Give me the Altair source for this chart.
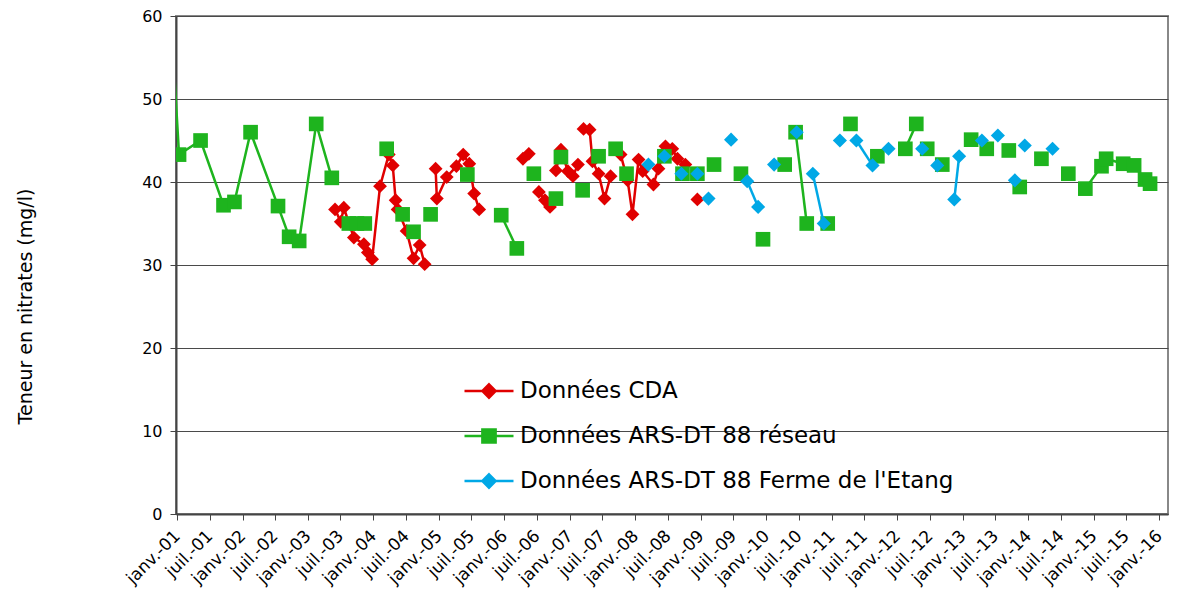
import altair as alt
import pandas as pd

series_names = ["Données CDA", "Données ARS-DT 88 réseau", "Données ARS-DT 88 Ferme de l'Etang"]
series_colors = ["#E00000", "#1EB41E", "#00A8E6"]

# --- Données CDA (red) ---
cda_dates = ["2003-06-01", "2003-07-03", "2003-07-20", "2003-09-14", "2003-11-09", "2003-12-01", "2003-12-25",
             "2004-02-07", "2004-03-27", "2004-04-18", "2004-05-04", "2004-05-15", "2004-07-04", "2004-08-12",
             "2004-09-15", "2004-10-13",
             "2004-12-13", "2004-12-20", "2005-02-13", "2005-04-08", "2005-05-16", "2005-06-19", "2005-07-16",
             "2005-08-13",
             "2006-04-14", "2006-05-17",
             "2006-07-12", "2006-08-15", "2006-09-12",
             "2006-10-15", "2006-11-12", "2006-12-21", "2007-01-18", "2007-02-15",
             "2007-03-18", "2007-04-21", "2007-05-07", "2007-06-10", "2007-07-13", "2007-08-16",
             "2007-10-11", "2007-11-19", "2007-12-16", "2008-01-19", "2008-02-11", "2008-04-11", "2008-05-09",
             "2008-06-17", "2008-07-25", "2008-08-23", "2008-10-06",
             "2008-12-12"]
cda_values = [36.7, 35.2, 36.9, 33.3, 32.5, 31.5, 30.7, 39.5, 43.3, 42.0, 37.8, 36.7, 34.1, 30.8, 32.4, 30.1,
              41.6, 38.0, 40.6, 41.9, 43.3, 42.2, 38.6, 36.7,
              42.8, 43.4,
              38.8, 37.8, 37.0,
              41.4, 43.9, 41.3, 40.7, 42.1,
              46.4, 46.3, 42.5, 41.0, 38.0, 40.7,
              43.3, 40.2, 36.1, 42.7, 41.3, 39.7, 41.6, 44.3, 44.0, 42.8, 42.1,
              37.9]
cda_runs = [16, 8, 2, 3, 5, 6, 11, 1]

# --- Données ARS-DT 88 réseau (green) ---
ars_dates = ["2000-11-10", "2001-01-12", "2001-05-12", "2001-09-17", "2001-11-17", "2002-02-15", "2002-07-18",
             "2002-09-18", "2002-11-13", "2003-02-16", "2003-05-14",
             "2003-08-17", "2003-10-01", "2003-11-14",
             "2004-03-15", "2004-06-12", "2004-08-12", "2004-11-15", "2005-06-08",
             "2005-12-14", "2006-03-11",
             "2006-06-14", "2006-10-15", "2006-11-12", "2007-03-13", "2007-06-10", "2007-09-13", "2007-11-13",
             "2008-06-11", "2008-09-20", "2008-12-12", "2009-03-15", "2009-08-12", "2009-12-13", "2010-04-13",
             "2010-06-13", "2010-08-14",
             "2010-12-09", "2011-04-15", "2011-09-12",
             "2012-02-15", "2012-04-16",
             "2012-06-16", "2012-09-08", "2013-02-16", "2013-05-14", "2013-09-14", "2013-11-14", "2014-03-15",
             "2014-08-12",
             "2014-11-15", "2015-02-13", "2015-03-11", "2015-06-14", "2015-08-14", "2015-10-14", "2015-11-11"]
ars_values = [66.5, 43.3, 45.0, 37.2, 37.6, 46.0, 37.1, 33.4, 32.9, 47.0, 40.5,
              35.0, 35.0, 35.0,
              44.0, 36.1, 34.0, 36.1, 40.9,
              36.0, 32.0,
              41.0, 38.0, 43.0, 39.0, 43.1, 44.0, 41.0, 43.1, 41.0, 41.0, 42.1, 41.0, 33.1, 42.1,
              46.0, 35.0,
              35.0, 47.0, 43.1,
              44.0, 47.0,
              44.0, 42.1, 45.1, 44.0, 43.8, 39.4, 42.8, 41.0,
              39.2, 41.9, 42.8, 42.2, 42.0, 40.3, 39.8]
ars_runs = [11, 3, 1, 1, 1, 1, 1, 2] + [1] * 14 + [2, 1, 1, 1, 2] + [1] * 8 + [7]

# --- Données ARS-DT 88 Ferme de l'Etang (blue) ---
etang_dates = ["2008-03-14", "2008-06-11", "2008-09-14", "2008-12-12", "2009-02-12", "2009-06-18", "2009-09-16",
               "2009-11-16", "2010-02-13", "2010-06-19", "2010-09-17", "2010-11-17", "2011-02-15", "2011-05-18",
               "2011-08-16", "2011-11-13", "2012-05-19", "2012-08-11", "2012-11-14", "2012-12-11", "2013-04-17",
               "2013-07-15", "2013-10-18", "2013-12-12", "2014-05-16"]
etang_values = [42.1, 43.1, 41.0, 41.0, 38.0, 45.1, 40.1, 37.0, 42.1, 46.0, 41.0, 35.0, 45.0, 45.0,
                42.0, 44.0, 44.0, 42.0, 37.9, 43.1, 45.0, 45.6, 40.2, 44.4, 44.0]
etang_runs = [1] * 6 + [2, 1, 1, 2, 1, 2, 1, 1, 1, 2] + [1] * 5

y_ticks = [0, 10, 20, 30, 40, 50, 60]
x_tick_years = list(range(2001, 2017))


def build(dates, values, runs, name):
    seg = []
    for i, r in enumerate(runs):
        seg += [i] * r
    return pd.DataFrame({"date": dates, "value": values, "seg": seg, "series": name})


df_cda = build(cda_dates, cda_values, cda_runs, series_names[0])
df_ars = build(ars_dates, ars_values, ars_runs, series_names[1])
df_etang = build(etang_dates, etang_values, etang_runs, series_names[2])

tick_values = []
for yr in x_tick_years:
    tick_values.append(alt.DateTime(year=yr, month=1, date=1, utc=True))
    if yr < 2016:
        tick_values.append(alt.DateTime(year=yr, month=7, date=1, utc=True))

x_scale = alt.Scale(type="utc",
                    domain=[alt.DateTime(year=2000, month=12, date=26, utc=True),
                            alt.DateTime(year=2016, month=2, date=19, utc=True)])
y_scale = alt.Scale(domain=[0, 60], nice=False, zero=True)

x_axis = alt.Axis(values=tick_values, title=None, grid=False,
                  labelExpr="(utcmonth(datum.value) == 0 ? 'janv.-' : 'juil.-') + utcFormat(datum.value, '%y')",
                  labelAngle=-45, labelAlign="right", labelBaseline="middle",
                  labelFontSize=17, labelPadding=13, labelOverlap=False, labelFlush=False,
                  tickSize=6, tickColor="#444444", domainColor="#444444", domainWidth=2)
y_axis = alt.Axis(values=y_ticks, title="Teneur en nitrates (mg/l)", grid=True,
                  gridColor="#4a4a4a", gridWidth=1,
                  labelFontSize=16, labelPadding=8, tickSize=6, tickColor="#444444",
                  domainColor="#444444", domainWidth=2,
                  titleFontSize=19, titleFontWeight="normal", titleX=-151, titleY=290,
                  titleAngle=270, titleAlign="center", titleBaseline="middle")

X = alt.X("date:T", scale=x_scale, axis=x_axis)
Y = alt.Y("value:Q", scale=y_scale, axis=y_axis)


def series_layers(df, color, shape, size):
    line = alt.Chart(df).mark_line(color=color, strokeWidth=2.5, clip=True).encode(
        x=X, y=Y, detail="seg:N")
    pts = alt.Chart(df).mark_point(shape=shape, filled=True, size=size, color=color,
                                   opacity=1, clip=True).encode(x=X, y=Y)
    return [line, pts]


legend_paths = [
    "M-1,0L1,0M0,-0.27L0.27,0L0,0.27L-0.27,0Z",
    "M-1,0L1,0M-0.27,-0.27L0.27,-0.27L0.27,0.27L-0.27,0.27Z",
    "M-1,0L1,0M0,-0.27L0.27,0L0,0.27L-0.27,0Z",
]
legend_df = pd.DataFrame({"series": series_names, "date": ["1990-01-01"] * 3, "value": [0, 0, 0]})
leg = alt.Legend(title=None, orient="none", legendX=287, legendY=349,
                 labelFontSize=23, labelFont="DejaVu Sans", labelColor="black", labelLimit=0,
                 symbolSize=2401, symbolStrokeWidth=2.5, symbolOpacity=1, labelOffset=5, rowPadding=7)
color_scale = alt.Scale(domain=series_names, range=series_colors)
legend_layer = alt.Chart(legend_df).mark_point(filled=True, opacity=1, clip=True, strokeWidth=2.5).encode(
    x=X, y=Y,
    color=alt.Color("series:N", scale=color_scale, legend=leg),
    stroke=alt.Stroke("series:N", scale=color_scale, legend=leg),
    shape=alt.Shape("series:N", scale=alt.Scale(domain=series_names, range=legend_paths), legend=leg),
)

layers = (series_layers(df_cda, series_colors[0], "diamond", 190)
          + series_layers(df_ars, series_colors[1], "square", 215)
          + series_layers(df_etang, series_colors[2], "diamond", 200)
          + [legend_layer])

chart = alt.layer(*layers).properties(
    width=992, height=498,
    padding={"left": 168, "top": 8, "right": 1, "bottom": 81},
    autosize="none",
).configure_view(stroke="#888888", strokeWidth=2).configure_axis(
    labelFont="DejaVu Sans", titleFont="DejaVu Sans", labelColor="black", titleColor="black"
)

chart.save("out.html", embed_options={"renderer": "svg", "actions": False})
